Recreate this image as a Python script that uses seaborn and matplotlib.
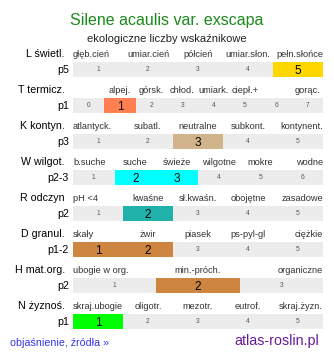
import matplotlib
matplotlib.use("Agg")
import matplotlib.pyplot as plt
from matplotlib.colors import ListedColormap
import numpy as np
import seaborn as sns

sns.set_style("white")
plt.rcParams["font.family"] = ["Liberation Sans", "DejaVu Sans"]

title = "Silene acaulis var. exscapa"
subtitle = "ekologiczne liczby wskaźnikowe"

row_names = ["L świetl.", "T termicz.", "K kontyn.", "W wilgot.",
             "R odczyn", "D granul.", "H mat.org.", "N żyznoś."]
row_codes = ["p5", "p1", "p3", "p2-3", "p2", "p1-2", "p2", "p1"]
scale_values = [
    [1, 2, 3, 4, 5],
    [0, 1, 2, 3, 4, 5, 6, 7],
    [1, 2, 3, 4, 5],
    [1, 2, 3, 4, 5, 6],
    [1, 2, 3, 4, 5],
    [1, 2, 3, 4, 5],
    [1, 2, 3],
    [1, 2, 3, 4, 5],
]
scale_labels = [
    ["głęb.cień", "umiar.cień", "półcień", "umiar.słon.", "pełn.słońce"],
    ["", "alpej.", "górsk.", "chłod.", "umiark.", "ciepł.+", "", "gorąc."],
    ["atlantyck.", "subatl.", "neutralne", "subkont.", "kontynent."],
    ["b.suche", "suche", "świeże", "wilgotne", "mokre", "wodne"],
    ["pH <4", "kwaśne", "sł.kwaśn.", "obojętne", "zasadowe"],
    ["skały", "żwir", "piasek", "ps-pyl-gl", "ciężkie"],
    ["ubogie w org.", "min.-próch.", "organiczne"],
    ["skraj.ubogie", "oligotr.", "mezotr.", "eutrof.", "skraj.żyzn."],
]
selected = [[5], [1], [3], [2, 3], [2], [1, 2], [2], [1]]
row_colors = ["#ffd700", "#ff7f50", "#d2b48c", "#00ffff",
              "#20b2aa", "#cd853f", "#cd853f", "#00ff00"]

W, H = 334, 358
fig = plt.figure(figsize=(W / 100, H / 100), dpi=100)
fig.patch.set_facecolor("white")


def fx(px):
    return px / W


def fy(py):
    return 1 - py / H


fig.text(fx(167), fy(25), title, ha="center", va="baseline",
         fontsize=11.5, color="#1a8a1a")
fig.text(fx(167), fy(42), subtitle, ha="center", va="baseline",
         fontsize=8, color="#222222")

strip_left, strip_right = 73, 323
bar_h = 15
grey = "#ececec"

for i in range(len(row_names)):
    top = 62 + 36 * i
    vals = scale_values[i]
    n = len(vals)
    ax = fig.add_axes([fx(strip_left), fy(top + bar_h),
                       fx(strip_right - strip_left), bar_h / H])
    flags = np.array([[1 if v in selected[i] else 0 for v in vals]])
    annot = np.array([[str(v) for v in vals]])
    sns.heatmap(flags, ax=ax, cmap=ListedColormap([grey, row_colors[i]]),
                vmin=0, vmax=1, cbar=False, annot=annot, fmt="",
                xticklabels=False, yticklabels=False, linewidths=0)
    for t, f in zip(ax.texts, flags[0]):
        if f:
            t.set_fontsize(8.6)
            t.set_color("black")
            t.set_y(0.5)
            t.set_va("center_baseline")
        else:
            t.set_fontsize(4.8)
            t.set_color("#555555")
    ax.set_xlim(0, n)
    for s in ax.spines.values():
        s.set_visible(False)

    # category names above the cells
    edge_align = n <= 6
    for j, lab in enumerate(scale_labels[i]):
        if not lab:
            continue
        x, ha = j + 0.5, "center"
        if edge_align and j == 0:
            x, ha = 0, "left"
        elif edge_align and j == n - 1:
            x, ha = n, "right"
        ax.text(x, 1 + 5 / bar_h, lab, transform=ax.get_xaxis_transform(),
                ha=ha, va="baseline", fontsize=6.7, color="#333333",
                clip_on=False)

    fig.text(fx(65), fy(top - 5), row_names[i], ha="right", va="baseline",
             fontsize=7.7, color="black")
    fig.text(fx(69), fy(top + 11), row_codes[i], ha="right", va="baseline",
             fontsize=7.7, color="black")

fig.text(fx(10), fy(346), "objaśnienie, źródła »", ha="left", va="baseline",
         fontsize=7.7, color="#3333ee")
fig.text(fx(319), fy(345), "atlas-roslin.pl", ha="right", va="baseline",
         fontsize=10.3, color="#6a1b9a")

fig.savefig("out.png", dpi=100, facecolor="white")
